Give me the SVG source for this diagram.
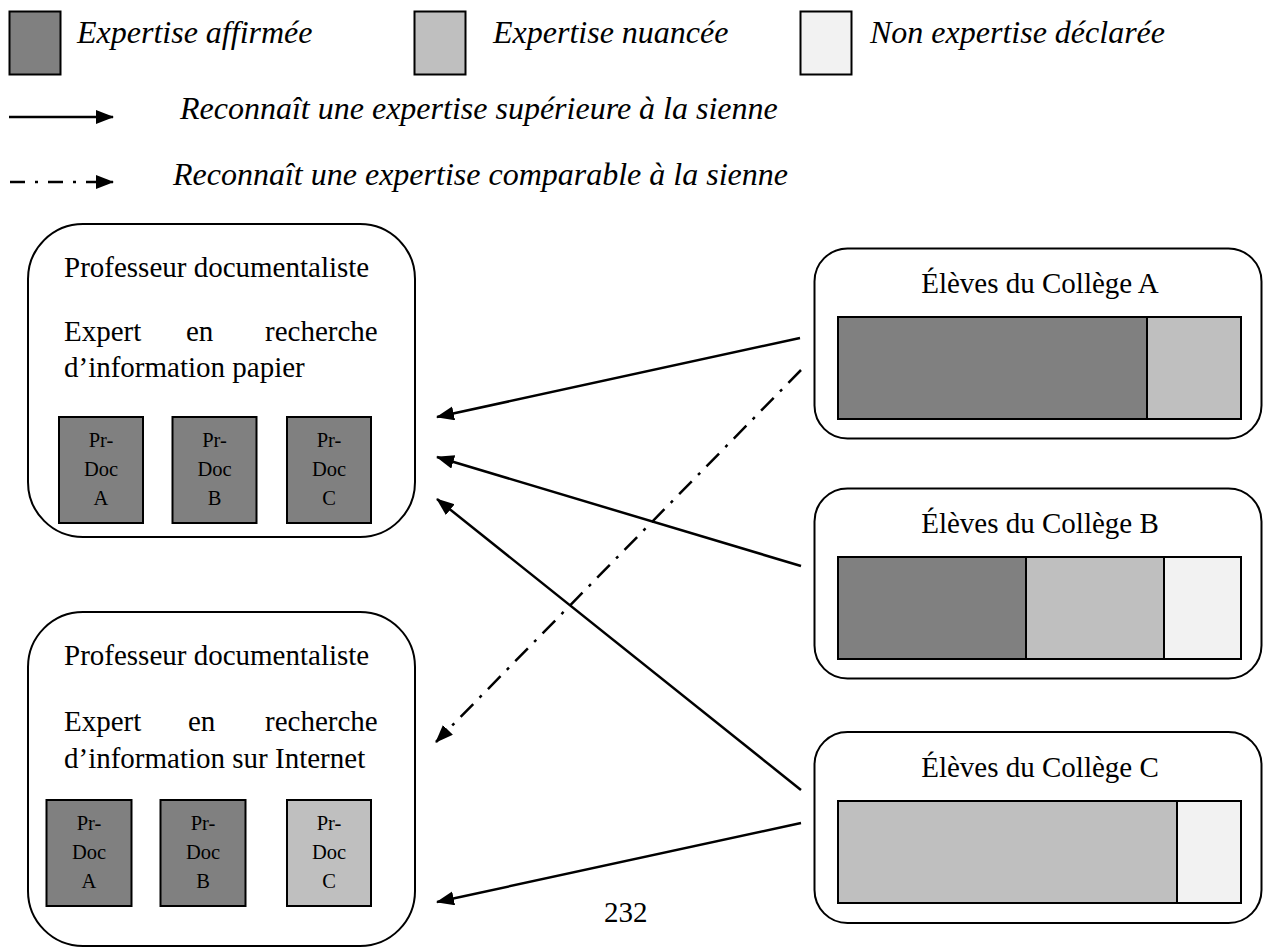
<svg xmlns="http://www.w3.org/2000/svg" width="1264" height="948" viewBox="0 0 1264 948">
<defs>
<marker id="ah" markerUnits="userSpaceOnUse" markerWidth="20" markerHeight="16" refX="17" refY="7" orient="auto">
<path d="M0,0 L18,7 L0,14 z" fill="#000"/>
</marker>
<style>
.box{fill:#fff;stroke:#000;stroke-width:2}
.dk{fill:#808080;stroke:#000;stroke-width:2}
.md{fill:#bfbfbf;stroke:#000;stroke-width:2}
.lt{fill:#f2f2f2;stroke:#000;stroke-width:2}
.leg{font-family:"Liberation Serif","Times New Roman",serif;font-style:italic;font-size:32px;fill:#000}
.t{font-family:"Liberation Serif","Times New Roman",serif;font-size:29px;fill:#000}
.d{font-family:"Liberation Serif","Times New Roman",serif;font-size:20.5px;fill:#000;text-anchor:middle}
.c{fill:none;stroke:#000;stroke-width:2.5}
.dash{stroke-dasharray:18 9 3 9}
</style>
</defs>
<rect width="1264" height="948" fill="#fff"/>
<g id="legend">
<rect class="dk" x="9.5" y="11.5" width="51" height="63"/>
<text class="leg" x="77" y="43">Expertise affirmée</text>
<rect class="md" x="414.5" y="11.5" width="51" height="63"/>
<text class="leg" x="493" y="43">Expertise nuancée</text>
<rect class="lt" x="800.5" y="11.5" width="51" height="63"/>
<text class="leg" x="870" y="43">Non expertise déclarée</text>
<line class="c" x1="9" y1="117" x2="113" y2="117" marker-end="url(#ah)"/>
<text class="leg" x="180" y="119">Reconnaît une expertise supérieure à la sienne</text>
<line class="c" x1="10" y1="182" x2="113" y2="182" stroke-dasharray="15 10 3 10" marker-end="url(#ah)"/>
<text class="leg" x="173" y="185">Reconnaît une expertise comparable à la sienne</text>
</g>
<g id="prof-papier">
<rect class="box" x="28" y="224" width="387" height="313" rx="55" ry="55"/>
<text class="t" x="64" y="277">Professeur documentaliste</text>
<text class="t" y="341"><tspan x="64">Expert</tspan><tspan x="186">en</tspan><tspan x="265">recherche</tspan></text>
<text class="t" x="64" y="377">d’information papier</text>
<rect class="dk" x="59" y="417" width="84" height="106"/>
<text class="d" y="447"><tspan x="101">Pr-</tspan><tspan x="101" dy="29">Doc</tspan><tspan x="101" dy="29">A</tspan></text>
<rect class="dk" x="172.5" y="417" width="84" height="106"/>
<text class="d" y="447"><tspan x="214.5">Pr-</tspan><tspan x="214.5" dy="29">Doc</tspan><tspan x="214.5" dy="29">B</tspan></text>
<rect class="dk" x="287" y="417" width="84" height="106"/>
<text class="d" y="447"><tspan x="329">Pr-</tspan><tspan x="329" dy="29">Doc</tspan><tspan x="329" dy="29">C</tspan></text>
</g>
<g id="prof-internet">
<rect class="box" x="28" y="612" width="387" height="334" rx="55" ry="55"/>
<text class="t" x="64" y="665">Professeur documentaliste</text>
<text class="t" y="731"><tspan x="64">Expert</tspan><tspan x="188">en</tspan><tspan x="265">recherche</tspan></text>
<text class="t" x="64" y="768">d’information sur Internet</text>
<rect class="dk" x="46.5" y="800" width="85" height="106"/>
<text class="d" y="830"><tspan x="89">Pr-</tspan><tspan x="89" dy="29">Doc</tspan><tspan x="89" dy="29">A</tspan></text>
<rect class="dk" x="160.5" y="800" width="85" height="106"/>
<text class="d" y="830"><tspan x="203">Pr-</tspan><tspan x="203" dy="29">Doc</tspan><tspan x="203" dy="29">B</tspan></text>
<rect class="md" x="287" y="800" width="84" height="106"/>
<text class="d" y="830"><tspan x="329">Pr-</tspan><tspan x="329" dy="29">Doc</tspan><tspan x="329" dy="29">C</tspan></text>
</g>
<g id="college-a">
<rect class="box" x="814.5" y="248.5" width="447" height="190" rx="33" ry="33"/>
<text class="t" x="1040" y="293" text-anchor="middle">Élèves du Collège A</text>
<rect class="dk" x="838" y="317" width="309" height="102"/>
<rect class="md" x="1147" y="317" width="94" height="102"/>
</g>
<g id="college-b">
<rect class="box" x="814.5" y="488.5" width="447" height="190" rx="33" ry="33"/>
<text class="t" x="1040" y="533" text-anchor="middle">Élèves du Collège B</text>
<rect class="dk" x="838" y="557" width="188" height="102"/>
<rect class="md" x="1026" y="557" width="138" height="102"/>
<rect class="lt" x="1164" y="557" width="77" height="102"/>
</g>
<g id="college-c">
<rect class="box" x="814.5" y="732" width="447" height="191" rx="33" ry="33"/>
<text class="t" x="1040" y="777" text-anchor="middle">Élèves du Collège C</text>
<rect class="md" x="838" y="801" width="339" height="102"/>
<rect class="lt" x="1177" y="801" width="64" height="102"/>
</g>
<g id="connectors">
<line class="c" x1="800" y1="338" x2="437" y2="417" marker-end="url(#ah)"/>
<line class="c" x1="801" y1="566" x2="437" y2="457" marker-end="url(#ah)"/>
<line class="c" x1="801" y1="790" x2="437" y2="499" marker-end="url(#ah)"/>
<line class="c" x1="801" y1="823" x2="437" y2="902" marker-end="url(#ah)"/>
<line class="c dash" x1="801" y1="370" x2="436" y2="742" marker-end="url(#ah)"/>
</g>
<text class="t" x="604" y="922">232</text>
</svg>
